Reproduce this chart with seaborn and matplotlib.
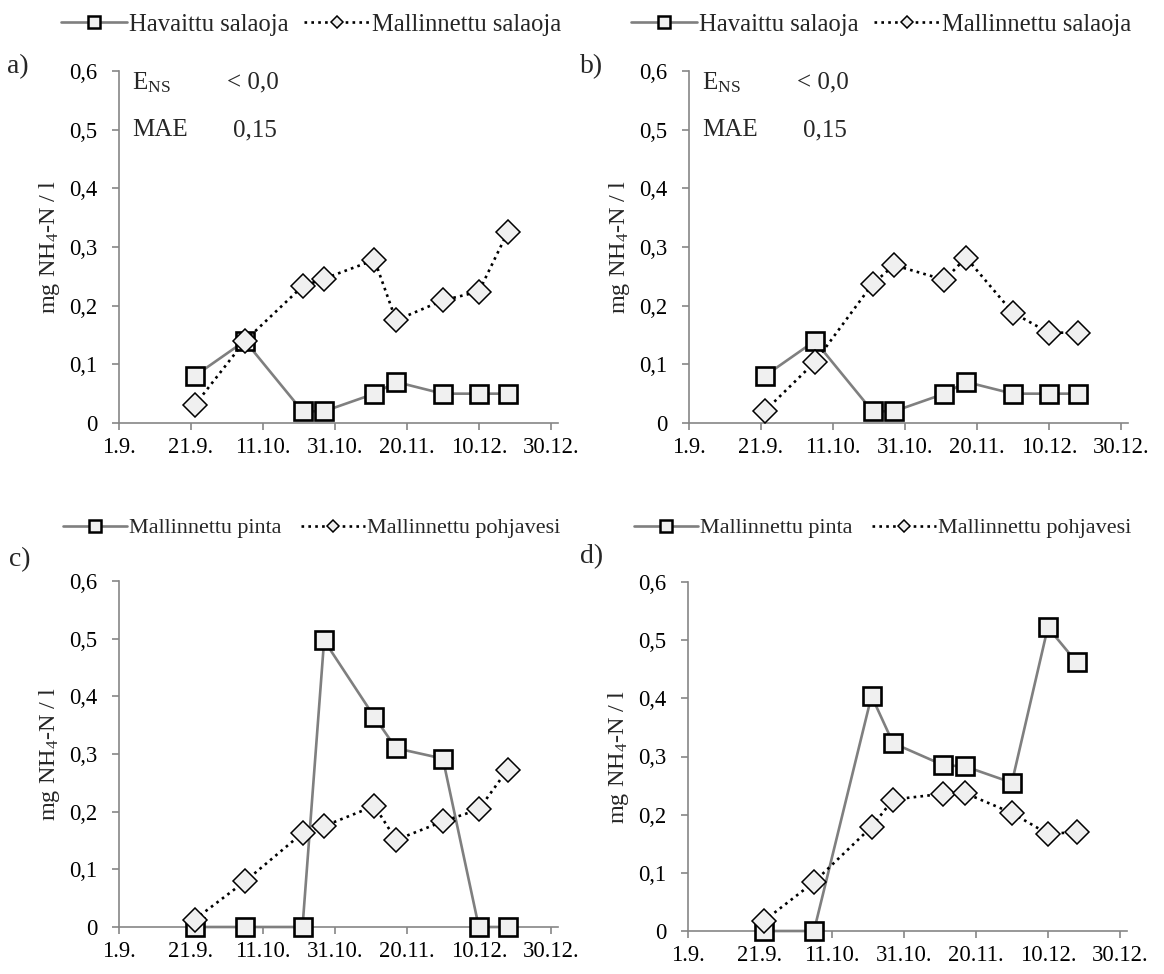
import matplotlib
matplotlib.use("Agg")
import matplotlib.pyplot as plt
from matplotlib.lines import Line2D
import seaborn as sns
import pandas as pd

sns.set_style("white")
plt.rcParams["font.family"] = ["Liberation Serif", "DejaVu Serif"]
plt.rcParams["mathtext.fontset"] = "custom"
plt.rcParams["mathtext.rm"] = "Liberation Serif"
plt.rcParams["mathtext.default"] = "regular"

# Sampling dates (same for every panel)
sample_dates = pd.to_datetime([
    "2009-09-22", "2009-10-06", "2009-10-22", "2009-10-28", "2009-11-11",
    "2009-11-17", "2009-11-30", "2009-12-10", "2009-12-18",
])

# a) observed vs simulated drainage
a_observed = [0.08, 0.14, 0.02, 0.02, 0.05, 0.07, 0.05, 0.05, 0.05]
a_modelled = [0.03, 0.14, 0.233, 0.246, 0.278, 0.175, 0.209, 0.224, 0.325]
# b) observed vs simulated drainage
b_observed = [0.08, 0.14, 0.02, 0.02, 0.05, 0.07, 0.05, 0.05, 0.05]
b_modelled = [0.02, 0.104, 0.237, 0.269, 0.244, 0.282, 0.188, 0.154, 0.154]
# c) simulated surface runoff vs groundwater
c_surface = [0.0, 0.0, 0.0, 0.497, 0.364, 0.31, 0.292, 0.0, 0.0]
c_ground = [0.013, 0.079, 0.163, 0.175, 0.21, 0.151, 0.183, 0.204, 0.273]
# d) simulated surface runoff vs groundwater
d_surface = [0.0, 0.0, 0.404, 0.323, 0.285, 0.283, 0.255, 0.522, 0.462]
d_ground = [0.017, 0.084, 0.179, 0.226, 0.236, 0.237, 0.203, 0.167, 0.170]

xtick_dates = pd.to_datetime([
    "2009-09-01", "2009-09-21", "2009-10-11", "2009-10-31",
    "2009-11-20", "2009-12-10", "2009-12-30",
])
xtick_labels = ["1.9.", "21.9.", "11.10.", "31.10.", "20.11.", "10.12.", "30.12."]
ytick_values = [0, 0.1, 0.2, 0.3, 0.4, 0.5, 0.6]
ytick_labels = ["0", "0,1", "0,2", "0,3", "0,4", "0,5", "0,6"]

legend_top = ["Havaittu salaoja", "Mallinnettu salaoja"]
legend_bottom = ["Mallinnettu pinta", "Mallinnettu pohjavesi"]
stats_names = ["E$_{NS}$", "MAE"]
stats_values = ["< 0,0", "0,15"]

W, H = 1164, 974
fig = plt.figure(figsize=(W / 100, H / 100), dpi=100)

GRAY = "#868686"
LINE_GRAY = "#7f7f7f"
FILL = "#f0f0f0"
TICK_FS = 16.3


def make_axes(x0, y0, x1, y1):
    return fig.add_axes([x0 / W, 1 - y0 / H, (x1 - x0) / W, (y0 - y1) / H])


def style_axes(ax):
    ax.set_xlim(pd.Timestamp("2009-09-01"), pd.Timestamp("2010-01-01"))
    ax.set_ylim(0, 0.6)
    ax.set_xticks(xtick_dates)
    ax.set_xticklabels(xtick_labels)
    ax.set_yticks(ytick_values)
    ax.set_yticklabels(ytick_labels)
    for side in ("top", "right"):
        ax.spines[side].set_visible(False)
    for side in ("left", "bottom"):
        ax.spines[side].set_color(GRAY)
        ax.spines[side].set_linewidth(1.2)
    ax.tick_params(axis="both", which="major", direction="out", length=4.8,
                   width=1.2, color=GRAY, labelsize=TICK_FS, labelcolor="black",
                   bottom=True, left=True)
    ax.tick_params(axis="x", pad=5)
    ax.tick_params(axis="y", pad=11)
    ax.set_xlabel("")
    ax.set_ylabel("mg NH$_4$-N / l", fontsize=17.5)
    ax.yaxis.set_label_coords(-0.13, 0.5)
    ax.set_facecolor("white")


def draw_series(ax, squares, diamonds):
    sns.lineplot(x=sample_dates, y=squares, ax=ax, color=LINE_GRAY,
                 linewidth=1.9, linestyle="-", marker="s", markersize=12.5,
                 markerfacecolor=FILL, markeredgecolor="black",
                 markeredgewidth=1.9, zorder=3, clip_on=False)
    sns.lineplot(x=sample_dates, y=diamonds, ax=ax, color="black",
                 linewidth=1.9, linestyle=(0, (1, 1.6)), marker="D",
                 markersize=12.5, markerfacecolor=FILL,
                 markeredgecolor="black", markeredgewidth=1.1, zorder=4,
                 clip_on=False)


def add_legend(labels, x, y, size, hlen, colsp):
    handles = [
        Line2D([], [], color=LINE_GRAY, linewidth=1.9, marker="s",
               markersize=9, markerfacecolor=FILL, markeredgecolor="black",
               markeredgewidth=1.8),
        Line2D([], [], color="black", linewidth=1.9, linestyle=(0, (1, 1.6)),
               marker="D", markersize=6.5, markerfacecolor=FILL,
               markeredgecolor="black", markeredgewidth=1.1),
    ]
    fig.legend(handles, labels, loc="center left",
               bbox_to_anchor=(x / W, 1 - y / H), ncol=2, frameon=False,
               fontsize=size, handlelength=hlen, handletextpad=0.08,
               columnspacing=colsp, borderpad=0, borderaxespad=0)


def add_stats(ax):
    ax.text(13 / 439, 0.949, stats_names[0], transform=ax.transAxes,
            fontsize=18, va="baseline", ha="left")
    ax.text(0.246, 0.949, stats_values[0], transform=ax.transAxes,
            fontsize=18, va="baseline", ha="left")
    ax.text(13 / 439, 0.815, stats_names[1], transform=ax.transAxes,
            fontsize=18, va="baseline", ha="left")
    ax.text(0.26, 0.815, stats_values[1], transform=ax.transAxes,
            fontsize=18, va="baseline", ha="left")


ax_a = make_axes(119, 423, 558, 71)
ax_b = make_axes(689, 423, 1128, 71)
ax_c = make_axes(119, 927, 558, 581)
ax_d = make_axes(688, 931, 1127, 582)

for ax, sq, di in ((ax_a, a_observed, a_modelled), (ax_b, b_observed, b_modelled),
                   (ax_c, c_surface, c_ground), (ax_d, d_surface, d_ground)):
    draw_series(ax, sq, di)
    style_axes(ax)

add_stats(ax_a)
add_stats(ax_b)

add_legend(legend_top, 61, 25, 17.7, 2.68, 0.65)
add_legend(legend_top, 631, 25, 17.7, 2.68, 0.65)
add_legend(legend_bottom, 63, 528, 15.9, 2.9, 0.9)
add_legend(legend_bottom, 634, 528, 15.9, 2.9, 0.9)

for label, x, y in (("a)", 7, 67), ("b)", 580, 67), ("c)", 9, 560), ("d)", 580, 557)):
    fig.text(x / W, 1 - y / H, label, fontsize=20, va="center", ha="left")

fig.savefig("out.png", dpi=100, facecolor="white")
